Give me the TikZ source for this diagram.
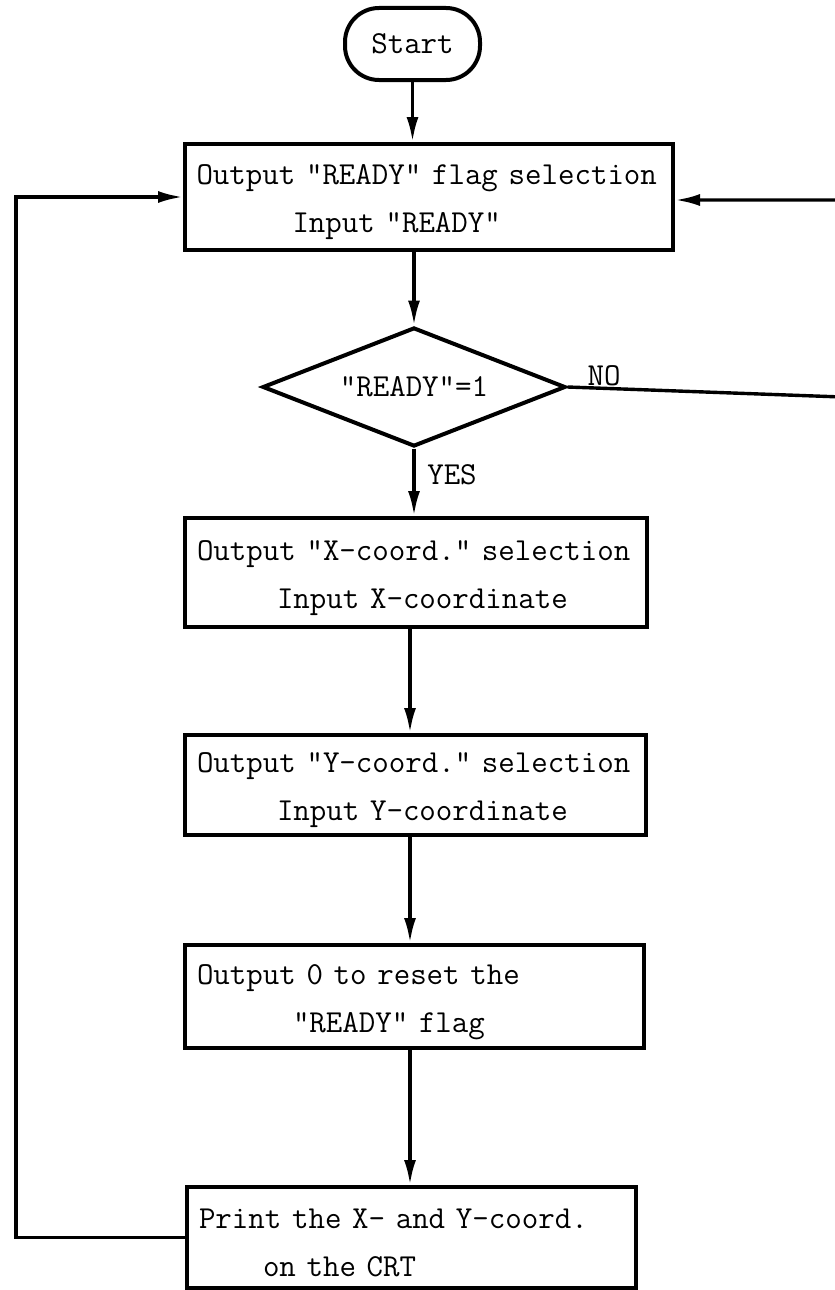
\documentclass[tikz,border=0pt]{standalone}
\usepackage{fontspec}
\usetikzlibrary{arrows.meta,shapes.geometric}
\newcommand\tyfont{\fontsize{32}{48}\selectfont\ttfamily\frenchspacing}
\begin{document}
\begin{tikzpicture}[x=1pt,y=-1pt,
  every node/.style={font=\tyfont},
  procbox/.style={draw, line width=4pt, align=left, inner xsep=12pt, inner ysep=0pt,
    execute at begin node={\rule{0pt}{31pt}}},
  flow/.style={line width=3.4pt, -{Latex[length=25pt,width=12pt]}},
  ]
\useasboundingbox (0,0) rectangle (835,1290);

% terminator
\node[draw, line width=4pt, rounded corners=34pt, minimum width=135pt,
      minimum height=72pt, inner sep=0pt] (start) at (412.5,44) {Start};

% process boxes
\node[procbox, inner xsep=11.5pt, text width=465pt, minimum height=106pt] (box1) at (429,197)
  {Output "READY" flag selection\\\hspace*{96pt}Input "READY"};

\node[draw, diamond, line width=4pt, aspect=2.5, minimum width=303pt,
      minimum height=119pt, inner sep=0pt] (dia) at (414,387) {"READY"=1};

\node[procbox, text width=438pt, minimum height=109pt] (box2) at (416,572.5)
  {Output "X-coord." selection\\\hspace*{80pt}Input X-coordinate};

\node[procbox, text width=437pt, minimum height=100pt] (box3) at (415.5,785)
  {Output "Y-coord." selection\\\hspace*{80pt}Input Y-coordinate};

\node[procbox, text width=435pt, minimum height=103pt] (box4) at (414.5,996.5)
  {Output 0 to reset the\\\hspace*{96pt}"READY" flag};

\node[procbox, text width=425pt, minimum height=101pt] (box5) at (411.5,1237.5)
  {Print the X- and Y-coord.\\\hspace*{64pt}on the CRT};

% branch labels
\node (nolbl) at (604,376) {NO};
\node (yeslbl) at (452,475) {YES};

% helper coordinates for the routing
\coordinate (spine) at (410,0);
\coordinate (noA) at (842,397);
\coordinate (noB) at (842,200);
\coordinate (loopx) at (16,0);

% main flow
\draw[flow] (start.south) -- (start.south |- box1.north);
\draw[flow] (box1.south -| dia.north) -- (dia.north);
\draw[flow] (dia.south) -- (dia.south |- box2.north);
\draw[flow] (spine |- box2.south) -- (spine |- box3.north);
\draw[flow] (spine |- box3.south) -- (spine |- box4.north);
\draw[flow] (spine |- box4.south) -- (spine |- box5.north);

% NO branch back to the first box
\draw[flow] (dia.east) -- (noA) -- (noB) -- (box1.east |- noB);

% loop back from the last box
\draw[flow] (box5.west) -- (loopx |- box5.west) -- (loopx |- box1.west) -- (box1.west);
\end{tikzpicture}
\end{document}
